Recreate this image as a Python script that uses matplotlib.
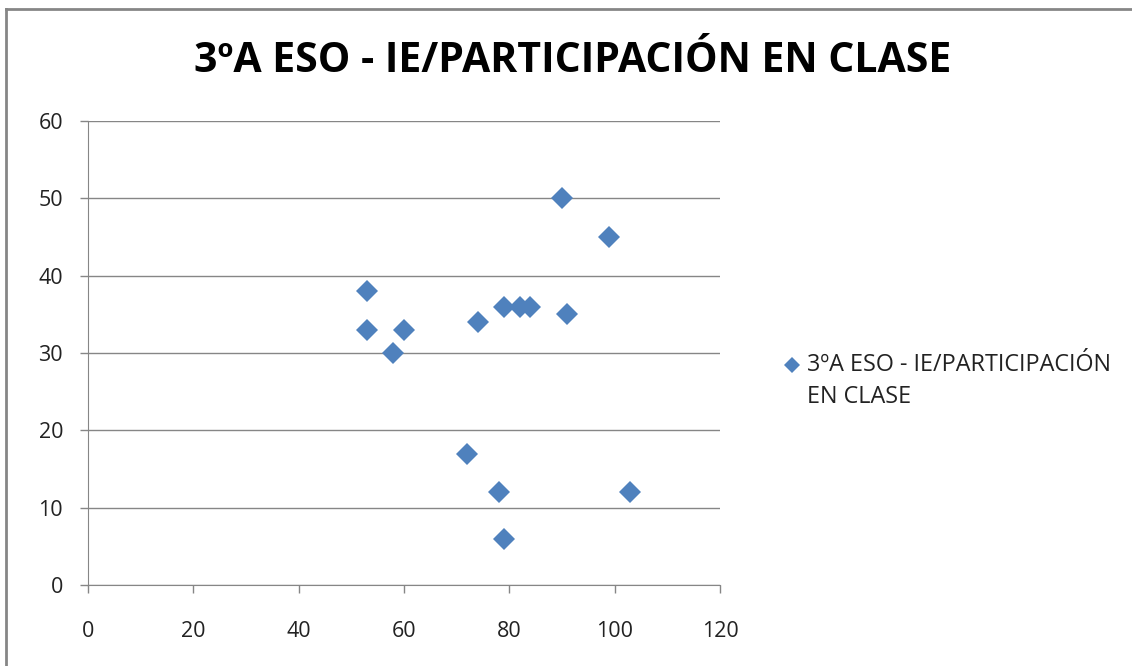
import matplotlib
matplotlib.use('Agg')
import matplotlib.pyplot as plt
from matplotlib.lines import Line2D

# Data
ie_values = [53, 53, 58, 60, 72, 74, 78, 79, 79, 82, 84, 90, 91, 99, 103]
participacion = [38, 33, 30, 33, 17, 34, 12, 36, 6, 36, 36, 50, 35, 45, 12]
x_ticks = [0, 20, 40, 60, 80, 100, 120]
y_ticks = [0, 10, 20, 30, 40, 50, 60]
series_name = '3ºA ESO - IE/PARTICIPACIÓN EN CLASE'

BLUE = '#4F81BD'
GREY = '#868686'

plt.rcParams['font.family'] = ['Open Sans', 'DejaVu Sans']

fig = plt.figure(figsize=(11.32, 6.66), dpi=100)
ax = fig.add_axes([88 / 1132, 1 - 585 / 666, (720 - 88) / 1132, (585 - 121) / 666])

ax.plot(ie_values, participacion, linestyle='none', marker='D', markersize=11,
        color=BLUE, markeredgewidth=0, zorder=3)

ax.set_xlim(0, 120)
ax.set_ylim(0, 60)
ax.set_xticks(x_ticks)
ax.set_yticks(y_ticks)
ax.yaxis.grid(True, color=GREY, linewidth=1)
ax.set_axisbelow(True)
for side in ['top', 'right']:
    ax.spines[side].set_visible(False)
for side in ['left', 'bottom']:
    ax.spines[side].set_color(GREY)
ax.tick_params(axis='both', colors=GREY, length=6, width=1, labelsize=15.5,
               labelcolor='#222222')
ax.tick_params(axis='x', pad=20)
ax.tick_params(axis='y', pad=12)

# Title
fig.text(573 / 1132, 1 - 62 / 666, series_name, ha='center', va='center',
         fontsize=29.5, fontweight='bold', color='black')

# Legend (marker + two-line label)
fig.add_artist(Line2D([792 / 1132], [1 - 365 / 666], marker='D', markersize=8.5,
                      color=BLUE, markeredgewidth=0, transform=fig.transFigure))
fig.text(807 / 1132, 1 - 365 / 666, '3ºA ESO - IE/PARTICIPACIÓN', ha='left',
         va='center', fontsize=16.8, color='#222222')
fig.text(807 / 1132, 1 - 397 / 666, 'EN CLASE', ha='left',
         va='center', fontsize=16.8, color='#222222')

# Chart area frame (top and left edges visible)
fig.add_artist(Line2D([6 / 1132, 1], [1 - 9 / 666, 1 - 9 / 666], color=GREY,
                      linewidth=2, transform=fig.transFigure))
fig.add_artist(Line2D([6 / 1132, 6 / 1132], [0, 1 - 9 / 666], color=GREY,
                      linewidth=2, transform=fig.transFigure))

fig.savefig('out.png', dpi=100)
